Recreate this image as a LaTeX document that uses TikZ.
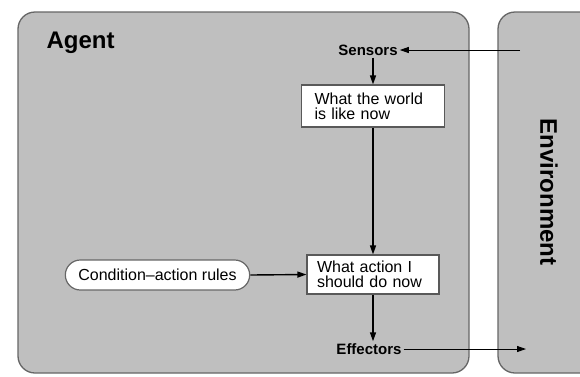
\documentclass[tikz,border=0pt]{standalone}
\usepackage{fontspec}
\setmainfont{Liberation Sans}
\usepackage{tikz}
\usetikzlibrary{positioning, arrows.meta, shapes.misc}

\begin{document}
\begin{tikzpicture}[
  x=1pt, y=-1pt,
  panel/.style={draw=black!60, line width=1.3pt, fill=black!25, rounded corners=17pt},
  stage/.style={draw=black!65, line width=1.2pt, fill=white, align=left,
    font=\fontsize{16}{15}\selectfont, inner ysep=2pt},
  rules/.style={rounded rectangle, draw=black!60, line width=1.2pt, fill=white,
    font=\fontsize{16}{18}\selectfont, minimum width=191, minimum height=30},
  port/.style={font=\bfseries\fontsize{15}{16}\selectfont, inner sep=2pt},
  title/.style={font=\bfseries\fontsize{24}{26}\selectfont},
  flow/.style={-{Triangle[length=9pt,width=6pt]}, line width=1.4pt},
  link/.style={-{Triangle[length=9pt,width=6pt]}, line width=0.9pt}
]
\useasboundingbox (0,0) rectangle (580,376);
\clip (0,0) rectangle (580,376);

\draw[panel] (18,12) rectangle (469,373);
\draw[panel] (498,12) rectangle (640,373);

\node[title, anchor=base west] (agent) at (43,48) {Agent};
\node[title, rotate=-90] (env) at (549,192) {Environment};

\node[port] (sensors) at (368,50) {Sensors};
\node[stage, minimum width=143, minimum height=42, text width=117, inner xsep=13]
  (state) at (373,106) {What the world\\is like now};
\node[stage, minimum width=132, minimum height=39, text width=112, inner xsep=10]
  (action) at (373,274.5) {What action I\\should do now};
\node[rules] (rules) at (157.5,275) {Condition–action rules};
\node[port] (effectors) at (369,349) {Effectors};

\coordinate (percept) at (520,50);
\coordinate (act) at (526,349);

\draw[link] (percept) -- (sensors.east);
\draw[flow] (sensors.south -| state.north) -- (state.north);
\draw[flow] (state.south) -- (action.north);
\draw[flow] (rules.east) -- (action.west);
\draw[flow] (action.south) -- (effectors.north -| action.south);
\draw[link] (effectors.east) -- (act);
\end{tikzpicture}
\end{document}
